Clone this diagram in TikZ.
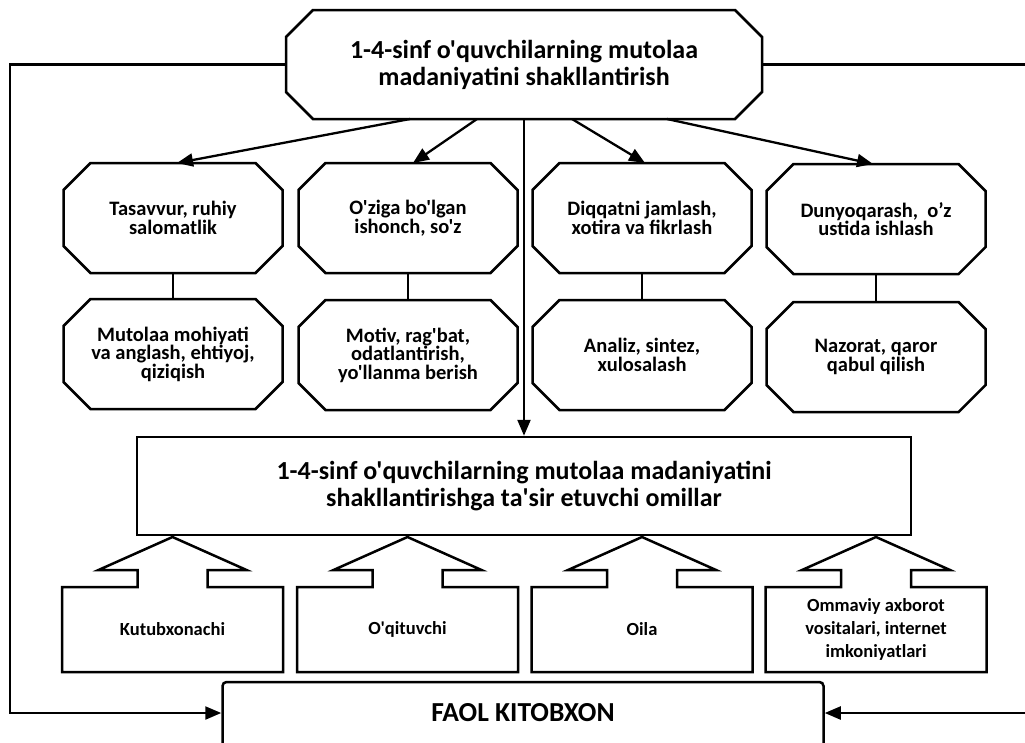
\documentclass[tikz,border=0pt]{standalone}
\usepackage{fontspec}
\setmainfont{Carlito}[Ligatures=TeXOff]
\usetikzlibrary{arrows.meta}

\begin{document}
\begin{tikzpicture}[x=1pt,y=-1pt,
    link/.style={line width=2.5pt},
    arr/.style={line width=2.3pt,-{Triangle[length=16pt,width=13pt]}},
    bigoct/.style={minimum width=476pt,minimum height=109pt,inner sep=0pt,outer sep=0pt,align=center,
        font=\fontsize{26}{27}\selectfont\bfseries},
    oct/.style={minimum width=219pt,minimum height=110pt,inner sep=0pt,outer sep=0pt,align=center,
        font=\fontsize{20.5}{18.5}\selectfont\bfseries},
    omil/.style={draw,line width=2.5pt,minimum width=774pt,minimum height=98pt,inner sep=0pt,align=center,
        font=\fontsize{26}{27}\selectfont\bfseries},
    factor/.style={minimum width=221pt,minimum height=85pt,inner sep=0pt,outer sep=0pt,align=center,
        font=\fontsize{18.5}{23}\selectfont\bfseries},
    faol/.style={draw,line width=2.5pt,rounded corners=4pt,minimum width=601pt,minimum height=84pt,inner sep=0pt,
        font=\fontsize{27.5}{30}\selectfont\bfseries}]
    \useasboundingbox (0,0) rectangle (1025,742);

    % Top box
    \node[bigoct] (top) at (524,64.5) {1-4-sinf o'quvchilarning mutolaa\\madaniyatini shakllantirish};

    % Upper row of octagons
    \node[oct] (t1) at (173,218) {Tasavvur, ruhiy\\salomatlik};
    \node[oct] (t2) at (408,218) {O'ziga bo'lgan\\ishonch, so'z};
    \node[oct] (t3) at (642,218) {Diqqatni jamlash,\\xotira va fikrlash};
    \node[oct] (t4) at (876,219) {Dunyoqarash,\ \ o’z\\ustida ishlash};

    % Lower row of octagons
    \node[oct] (b1) at (173,354) {Mutolaa mohiyati\\va anglash, ehtiyoj,\\qiziqish};
    \node[oct] (b2) at (408,355) {Motiv, rag'bat,\\odatlantirish,\\yo'llanma berish};
    \node[oct] (b3) at (642,355) {Analiz, sintez,\\xulosalash};
    \node[oct] (b4) at (876,357) {Nazorat, qaror\\qabul qilish};

    % Octagon outlines (cut corners)
    \foreach \n in {top,t1,t2,t3,t4,b1,b2,b3,b4}
        \draw[link] ([xshift=27pt]\n.north west) -- ([xshift=-27pt]\n.north east) -- ([yshift=-27pt]\n.north east)
            -- ([yshift=27pt]\n.south east) -- ([xshift=-27pt]\n.south east) -- ([xshift=27pt]\n.south west)
            -- ([yshift=27pt]\n.south west) -- ([yshift=-27pt]\n.north west) -- cycle;

    \foreach \i in {1,...,4}
        \draw[link] (t\i.south) -- (b\i.north);

    % Arrows from the top box
    \draw[arr] ([xshift=-114pt]top.south) -- ([xshift=4pt]t1.north);
    \draw[arr] ([xshift=-47pt]top.south) -- ([xshift=5pt]t2.north);
    \draw[arr] ([xshift=48pt]top.south) -- ([xshift=3pt]t3.north);
    \draw[arr] ([xshift=143pt]top.south) -- ([xshift=-3pt]t4.north);

    % Factors box
    \node[omil] (omil) at (524,486) {1-4-sinf o'quvchilarning mutolaa madaniyatini\\shakllantirishga ta'sir etuvchi omillar};
    \draw[arr] (top.south) -- (omil.north);

    % Factor boxes with block arrows
    \node[factor] (f1) at (172.5,629.5) {Kutubxonachi};
    \node[factor] (f2) at (407.5,629.5) {O'qituvchi};
    \node[factor] (f3) at (642,629.5) {Oila};
    \node[factor] (f4) at (876,629.5) {Ommaviy axborot\\vositalari, internet\\imkoniyatlari};
    \foreach \n in {f1,f2,f3,f4}
        \draw[link] (\n.north) ++(-35,0) -- ++(0,-17) -- ++(-39,0) -- ++(74,-33) -- ++(74,33) -- ++(-39,0)
            -- ++(0,17) -- (\n.north east) -- (\n.south east) -- (\n.south west) -- (\n.north west) -- cycle;

    % Active reader (box runs off the bottom edge)
    \node[faol] (faol) at (523,724) {};
    \node[font=\fontsize{27.5}{30}\selectfont\bfseries] (faoltxt) at (523,713) {FAOL KITOBXON};
    \draw[arr] (top.west) -- ++(-276,0) |- (faoltxt -| faol.west);
    \draw[arr] (top.east) -- ++(268,0) |- (faoltxt -| faol.east);
\end{tikzpicture}
\end{document}
